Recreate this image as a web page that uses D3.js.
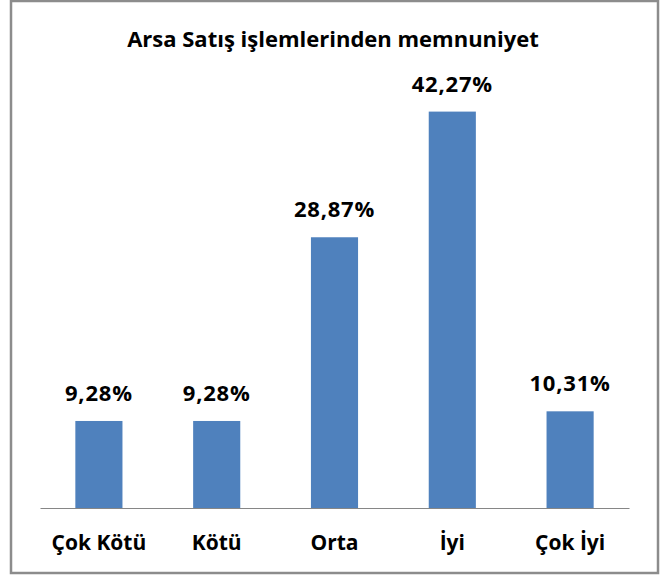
<!DOCTYPE html>
<html>
<head>
<meta charset="utf-8">
<script src="https://cdn.jsdelivr.net/npm/d3@7"></script>
<style>
  html, body { margin: 0; padding: 0; background: #fff; }
  svg { display: block; }
</style>
</head>
<body>
<svg width="662" height="575"></svg>
<script>
// chart data
var title = "Arsa Satış işlemlerinden memnuniyet";
var categories = ["Çok Kötü", "Kötü", "Orta", "İyi", "Çok İyi"];
var values = [9.28, 9.28, 28.87, 42.27, 10.31];
var valueLabels = ["9,28%", "9,28%", "28,87%", "42,27%", "10,31%"];

var svg = d3.select("svg"),
  margin = { top: 86, right: 33, bottom: 67, left: 40 },
  width = +svg.attr("width") - margin.left - margin.right,
  height = +svg.attr("height") - margin.top - margin.bottom;

var font = "'Open Sans', 'Liberation Sans', sans-serif";

// outer frame
svg.append("rect")
  .attr("x", 11)
  .attr("y", 1)
  .attr("width", 647)
  .attr("height", 572)
  .attr("fill", "#fff")
  .attr("stroke", "#8c8c8c")
  .attr("stroke-width", 2.5);

svg.append("text")
  .attr("x", 333)
  .attr("y", 47)
  .attr("text-anchor", "middle")
  .attr("font-family", font)
  .attr("font-weight", "bold")
  .attr("font-size", 22)
  .attr("fill", "#000")
  .text(title);

var g = svg.append("g").attr("transform", "translate(" + margin.left + "," + margin.top + ")");

var x = d3.scaleBand()
  .domain(categories)
  .range([0, width])
  .padding(0);

var y = d3.scaleLinear()
  .domain([0, 45])
  .range([height, 0]);

var barW = x.bandwidth() * 0.4;

g.selectAll("rect.bar")
  .data(values)
  .enter().append("rect")
  .attr("class", "bar")
  .attr("x", function (d, i) { return x(categories[i]) + (x.bandwidth() - barW) / 2; })
  .attr("y", function (d) { return y(d); })
  .attr("width", barW)
  .attr("height", function (d) { return height - y(d); })
  .attr("fill", "#4f81bd");

g.selectAll("text.val")
  .data(values)
  .enter().append("text")
  .attr("class", "val")
  .attr("x", function (d, i) { return x(categories[i]) + x.bandwidth() / 2; })
  .attr("y", function (d) { return y(d) - 20; })
  .attr("text-anchor", "middle")
  .attr("font-family", font)
  .attr("font-weight", "bold")
  .attr("font-size", 22)
  .attr("letter-spacing", 0.8)
  .attr("fill", "#000")
  .text(function (d, i) { return valueLabels[i]; });

var xAxis = g.append("g")
  .attr("transform", "translate(0," + height + ")")
  .call(d3.axisBottom(x).tickSize(0).tickPadding(27));

xAxis.select(".domain").attr("stroke", "#868686").attr("stroke-width", 1.2);
xAxis.selectAll("text")
  .attr("font-family", font)
  .attr("font-weight", "bold")
  .attr("font-size", 21)
  .attr("fill", "#000");
</script>
</body>
</html>
